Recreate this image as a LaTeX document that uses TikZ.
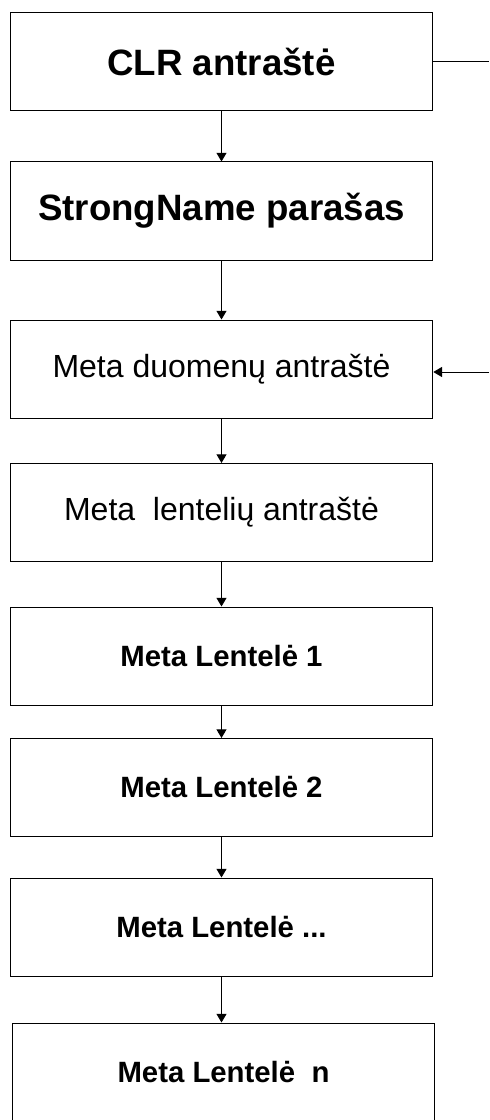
\documentclass[tikz,border=0pt]{standalone}
\usepackage{fontspec}
\setmainfont{Liberation Sans}
\usetikzlibrary{arrows.meta}
\begin{document}
\begin{tikzpicture}[x=0.75pt, y=-0.75pt, >={Triangle[length=6.5pt,width=7.5pt]},
    blokas/.style={draw, line width=0.75pt, minimum width=317pt, minimum height=73.5pt, inner sep=0pt},
    didelis/.style={font=\bfseries\fontsize{27.5pt}{32pt}\selectfont},
    vidutinis/.style={font=\fontsize{24pt}{28pt}\selectfont},
    paryskintas/.style={font=\bfseries\fontsize{22pt}{26pt}\selectfont}]
    \useasboundingbox (0,0) rectangle (489,1120);

    % Antraštės
    \node[blokas, didelis] (clr) at (221.5,62) {CLR antraštė};
    \node[blokas, didelis] (strong) at (221.5,211) {StrongName parašas};
    \node[blokas, vidutinis] (meta) at (221.5,369) {Meta duomenų antraštė};
    \node[blokas, vidutinis] (lent) at (221.5,512.5) {Meta\ \ lentelių antraštė};

    % Lentelės
    \node[blokas, paryskintas] (l1) at (221.5,656) {Meta Lentelė 1};
    \node[blokas, paryskintas] (l2) at (221.5,787.5) {Meta Lentelė 2};
    \node[blokas, paryskintas] (l3) at (221.5,927) {Meta Lentelė ...};
    \node[blokas, paryskintas] (ln) at (223.5,1072) {Meta Lentelė\ \ n};

    % Rodyklės žemyn
    \draw[->, line width=0.75pt] (clr) -- (strong);
    \draw[->, line width=0.75pt] (strong) -- (meta);
    \draw[->, line width=0.75pt] (meta) -- (lent);
    \draw[->, line width=0.75pt] (lent) -- (l1);
    \draw[->, line width=0.75pt] (l1) -- (l2);
    \draw[->, line width=0.75pt] (l2) -- (l3);
    \draw[->, line width=0.75pt] (l3) -- (ln.north -| l3);

    % Šoninės linijos
    \coordinate (virsus) at (489,62);
    \coordinate (apacia) at (489,372);
    \draw[line width=0.75pt] (clr.east) -- (virsus);
    \draw[->, line width=0.75pt] (apacia) -- (apacia -| meta.east);
\end{tikzpicture}
\end{document}
